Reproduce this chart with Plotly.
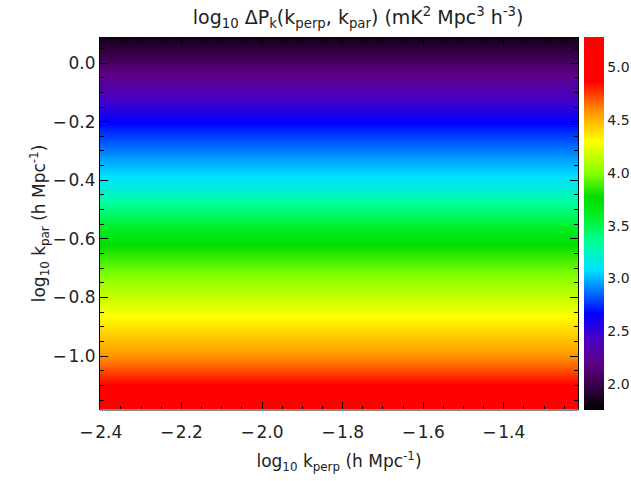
import plotly.graph_objects as go

# log10 k_perp bin centres (h Mpc^-1)
kperp = [-2.45, -2.35, -2.25, -2.15, -2.05, -1.95, -1.85, -1.75, -1.65, -1.55, -1.45, -1.35, -1.25, -1.15]
# log10 k_par bin centres (h Mpc^-1)
kpar = [-1.225, -1.175, -1.125, -1.075, -1.025, -0.975, -0.925, -0.875, -0.825, -0.775,
        -0.725, -0.675, -0.625, -0.575, -0.525, -0.475, -0.425, -0.375, -0.325, -0.275,
        -0.225, -0.175, -0.125, -0.075, -0.025, 0.025, 0.075, 0.125]
# log10 Delta P_k for each k_par row (flat along k_perp)
dpk_row = [5.25, 5.10, 4.95, 4.80, 4.65, 4.53, 4.43, 4.32, 4.21, 4.11,
           4.00, 3.89, 3.78, 3.64, 3.48, 3.33, 3.17, 3.05, 2.95, 2.84,
           2.72, 2.58, 2.44, 2.30, 2.15, 2.00, 1.86, 1.72]

zmin, zmax = 1.75, 5.29
cbar_ticks = [2.0, 2.5, 3.0, 3.5, 4.0, 4.5, 5.0]
x_ticks = [-2.4, -2.2, -2.0, -1.8, -1.6, -1.4]
y_ticks = [-1.0, -0.8, -0.6, -0.4, -0.2, 0.0]


def fmt(t):
    s = f"{t:.1f}"
    return s.replace("-", "\u2212\u200a")


z = [[v] * len(kperp) for v in dpk_row]

cscale = [
    [0.0, "rgb(0,0,0)"],
    [0.05, "rgb(45,0,55)"],
    [0.125, "rgb(95,0,135)"],
    [0.196, "rgb(70,0,200)"],
    [0.258, "rgb(0,0,255)"],
    [0.32, "rgb(0,120,255)"],
    [0.374, "rgb(0,225,255)"],
    [0.446, "rgb(0,255,160)"],
    [0.517, "rgb(0,240,40)"],
    [0.57, "rgb(0,220,0)"],
    [0.633, "rgb(130,255,0)"],
    [0.72, "rgb(255,255,0)"],
    [0.80, "rgb(255,150,0)"],
    [0.88, "rgb(255,0,0)"],
    [1.0, "rgb(255,0,0)"],
]

font = "DejaVu Sans"
fig = go.Figure(go.Heatmap(
    x=kperp, y=kpar, z=z, zmin=zmin, zmax=zmax, zsmooth="best",
    colorscale=cscale, hoverinfo="skip",
    colorbar=dict(x=1.0126, xanchor="left", xpad=0, y=0, yanchor="bottom", len=1, ypad=0,
                  lenmode="fraction", thickness=20, thicknessmode="pixels",
                  outlinewidth=0, ticks="outside", ticklen=1, tickcolor="rgba(0,0,0,0)",
                  tickvals=cbar_ticks,
                  ticktext=[f"{t:.1f}" for t in cbar_ticks],
                  tickfont=dict(family=font, size=14, color="#222")),
))

axis_common = dict(ticks="inside", ticklen=8, tickcolor="black", tickwidth=1,
                   showgrid=False, zeroline=False, mirror="ticks",
                   tickfont=dict(family=font, size=17, color="#222"),
                   minor=dict(ticks="inside", ticklen=4, tickcolor="black", dtick=0.05, showgrid=False))

fig.update_xaxes(range=[-2.402, -1.216], tickvals=x_ticks, ticktext=[fmt(t) for t in x_ticks],
                 showline=False, ticklabelstandoff=10,
                 title=dict(text="log<sub>10</sub> k<sub>perp</sub> (h Mpc<sup>-1</sup>)", standoff=14,
                            font=dict(family=font, size=17, color="#222")),
                 **axis_common)
fig.update_yaxes(range=[-1.184, 0.089], tickvals=y_ticks, ticktext=[fmt(t) for t in y_ticks],
                 showline=True, linecolor="black", linewidth=1,
                 title=dict(text="log<sub>10</sub> k<sub>par</sub> (h Mpc<sup>-1</sup>)", standoff=2,
                            font=dict(family=font, size=17, color="#222")),
                 **axis_common)

fig.add_shape(type="line", xref="paper", yref="paper", x0=0, x1=1, y0=0, y1=0,
              line=dict(color="#888", width=2))

fig.update_layout(
    width=631, height=481,
    margin=dict(l=100, r=53, t=37, b=71, autoexpand=False),
    paper_bgcolor="white", plot_bgcolor="white",
    title=dict(text="log<sub>10</sub> ΔP<sub>k</sub>(k<sub>perp</sub>, k<sub>par</sub>) (mK<sup>2</sup> Mpc<sup>3</sup> h<sup>-3</sup>)",
               x=0.54, xanchor="center", xref="paper", y=1 - 17 / 481, yanchor="middle",
               font=dict(family=font, size=19, color="#222")),
)

fig.write_html("out.html", config={"displayModeBar": False},
               post_script="document.body.style.margin='0px';")
